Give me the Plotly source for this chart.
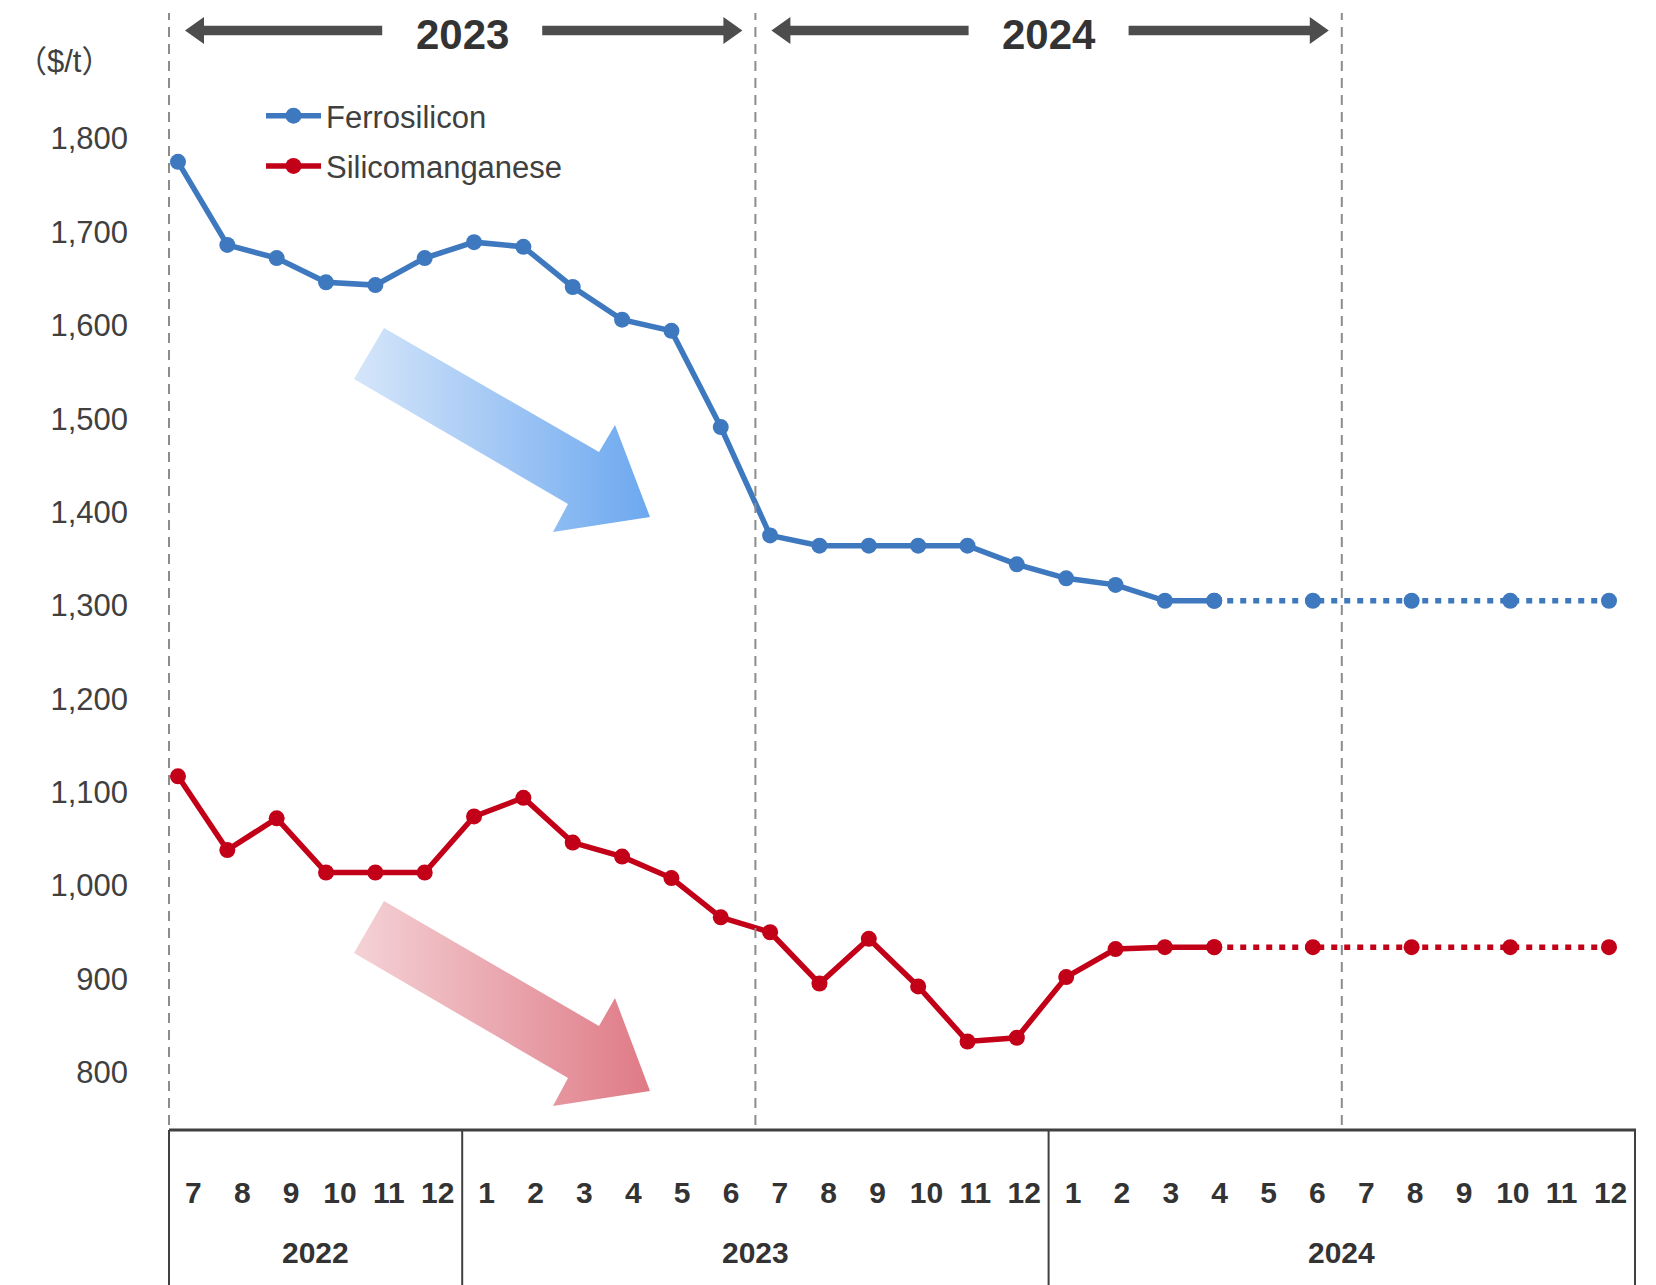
import plotly.graph_objects as go

W, H = 1656, 1285

# ---- data -------------------------------------------------------------
month_labels = ["7", "8", "9", "10", "11", "12",
                "1", "2", "3", "4", "5", "6", "7", "8", "9", "10", "11", "12",
                "1", "2", "3", "4", "5", "6", "7", "8", "9", "10", "11", "12"]
year_labels = ["2022", "2023", "2024"]
year_month_counts = [6, 12, 12]
period_labels = ["2023", "2024"]
period_month_counts = [12, 12]

ferro_actual = [1775, 1686, 1672, 1646, 1643, 1672, 1689, 1684, 1641, 1606, 1594,
                1491, 1375, 1364, 1364, 1364, 1364, 1344, 1329, 1322, 1305, 1305]
simn_actual = [1117, 1038, 1072, 1014, 1014, 1014, 1074, 1094, 1046, 1031, 1008,
               966, 950, 895, 943, 892, 833, 837, 902, 932, 934, 934]
forecast_pos = [21, 23, 25, 27, 29]
ferro_forecast = [1305, 1305, 1305, 1305, 1305]
simn_forecast = [934, 934, 934, 934, 934]

y_ticks = [800, 900, 1000, 1100, 1200, 1300, 1400, 1500, 1600, 1700, 1800]

# ---- styling ----------------------------------------------------------
BLUE = "#3E78BF"
RED = "#C20018"
TXT = "#404040"
DARK = "#333333"
FONT = "Liberation Sans, Arial, sans-serif"
LINE_W = 5.5
MARKER = 16

# plot area in page pixels
PL, PR, PT, PB = 169, 1635, 13, 1125
TABLE_TOP = 1130


def px(x):
    return x / W


def py(y):
    return 1 - y / H


n_months = len(month_labels)
cat_w = (PR - PL) / n_months


def cat_px(v):
    """page x of a position on the month-category axis"""
    return PL + (v + 0.5) * cat_w


fig = go.Figure()

fig.add_trace(go.Scatter(
    x=list(range(len(ferro_actual))), y=ferro_actual, name="Ferrosilicon",
    mode="lines+markers", line=dict(color=BLUE, width=LINE_W),
    marker=dict(color=BLUE, size=MARKER), legendgroup="fe", hoverinfo="skip"))
fig.add_trace(go.Scatter(
    x=forecast_pos, y=ferro_forecast, name="Ferrosilicon", mode="lines+markers",
    line=dict(color=BLUE, width=LINE_W, dash="6px,7px"),
    marker=dict(color=BLUE, size=MARKER),
    legendgroup="fe", showlegend=False, hoverinfo="skip"))
fig.add_trace(go.Scatter(
    x=list(range(len(simn_actual))), y=simn_actual, name="Silicomanganese",
    mode="lines+markers", line=dict(color=RED, width=LINE_W),
    marker=dict(color=RED, size=MARKER), legendgroup="si", hoverinfo="skip"))
fig.add_trace(go.Scatter(
    x=forecast_pos, y=simn_forecast, name="Silicomanganese", mode="lines+markers",
    line=dict(color=RED, width=LINE_W, dash="6px,7px"),
    marker=dict(color=RED, size=MARKER),
    legendgroup="si", showlegend=False, hoverinfo="skip"))

# month category axis (carries the month tick labels)
fig.add_trace(go.Scatter(x=[0], y=[None], xaxis="x2", yaxis="y",
                         showlegend=False, hoverinfo="skip"))

# gradient trend arrows, drawn on a page-pixel helper axis
blue_arrow = [(384, 328), (599, 452), (615, 425), (650, 517), (553, 532), (568, 504), (354, 379), (384, 328)]
red_arrow = [(384, 901), (599, 1026), (615, 998), (650, 1091), (553, 1106), (568, 1078), (354, 953), (384, 901)]
for pts, cs in [(blue_arrow, [[0, "#D6E6FA"], [1, "#6CA8EF"]]),
                (red_arrow, [[0, "#F4D2D6"], [1, "#DF7A86"]])]:
    fig.add_trace(go.Scatter(
        x=[p[0] for p in pts], y=[p[1] for p in pts], xaxis="x3", yaxis="y3",
        mode="lines", fill="toself", line=dict(width=0, color="rgba(0,0,0,0)"),
        fillgradient=dict(type="horizontal", colorscale=cs),
        showlegend=False, hoverinfo="skip"))

shapes = []

# dashed period separators
for v in [-0.5, 11.5, 23.5]:
    shapes.append(dict(type="line", xref="paper", yref="paper",
                       x0=px(cat_px(v)), x1=px(cat_px(v)), y0=py(PB), y1=py(PT),
                       line=dict(color="#8C8C8C", width=2, dash="10px,7px")))

# table under the chart
shapes.append(dict(type="line", xref="paper", yref="paper",
                   x0=px(PL), x1=px(PR + 1), y0=py(TABLE_TOP), y1=py(TABLE_TOP),
                   line=dict(color=TXT, width=3)))
edges = [-0.5]
for c in year_month_counts:
    edges.append(edges[-1] + c)
for v in edges:
    shapes.append(dict(type="line", xref="paper", yref="paper",
                       x0=px(cat_px(v)), x1=px(cat_px(v)), y0=py(TABLE_TOP), y1=0,
                       line=dict(color=TXT, width=2)))

annotations = []
start = -0.5
for lab, c in zip(year_labels, year_month_counts):
    annotations.append(dict(text=lab, xref="paper", yref="paper",
                            x=px(cat_px(start + c / 2)), y=py(1252),
                            showarrow=False, xanchor="center", yanchor="middle",
                            font=dict(family=FONT, size=30, color=DARK, weight="bold")))
    start += c

# period arrows across the top
ARROW_Y = 30.5
SHAFT_HALF = 4.8
HEAD_LEN = 19
HEAD_HALF = 13.5
TEXT_GAP = 80


def h_arrow(x_from, x_to):
    d = 1 if x_to > x_from else -1
    xb = x_to - d * HEAD_LEN
    pts = [(x_from, ARROW_Y - SHAFT_HALF), (xb, ARROW_Y - SHAFT_HALF),
           (xb, ARROW_Y - HEAD_HALF), (x_to, ARROW_Y), (xb, ARROW_Y + HEAD_HALF),
           (xb, ARROW_Y + SHAFT_HALF), (x_from, ARROW_Y + SHAFT_HALF)]
    path = "M" + " L".join(f"{px(a):.5f},{py(b):.5f}" for a, b in pts) + " Z"
    return dict(type="path", xref="paper", yref="paper", path=path,
                fillcolor="#4D4D4D", line=dict(width=0))


start = -0.5
for lab, c in zip(period_labels, period_month_counts):
    left = cat_px(start) + 16
    right = cat_px(start + c) - 13
    mid = cat_px(start + c / 2)
    shapes.append(h_arrow(mid - TEXT_GAP, left))
    shapes.append(h_arrow(mid + TEXT_GAP, right))
    annotations.append(dict(text=lab, xref="paper", yref="paper", x=px(mid), y=py(34),
                            showarrow=False, xanchor="center", yanchor="middle",
                            font=dict(family=FONT, size=42, color=DARK, weight="bold")))
    start += c

annotations.append(dict(text="（$/t）", xref="paper", yref="paper", x=px(64), y=py(61),
                        showarrow=False, xanchor="center", yanchor="middle",
                        font=dict(family="Liberation Sans, Noto Sans CJK JP", size=31, color=TXT)))

fig.update_layout(
    width=W, height=H,
    margin=dict(l=0, r=0, t=0, b=0),
    paper_bgcolor="white", plot_bgcolor="rgba(0,0,0,0)",
    font=dict(family=FONT, color=TXT),
    showlegend=True,
    legend=dict(x=px(261), y=py(89), xanchor="left", yanchor="top",
                font=dict(family=FONT, size=31, color=TXT), itemwidth=55,
                bgcolor="rgba(0,0,0,0)", tracegroupgap=7, traceorder="grouped"),
    xaxis=dict(domain=[px(PL), px(PR)], range=[-0.182, 29.527], visible=False,
               anchor="y"),
    xaxis2=dict(domain=[px(PL), px(PR)], range=[-0.5, 29.5], overlaying="x",
                anchor="y", side="bottom", showgrid=False, zeroline=False,
                showline=False, ticks="",
                tickmode="array", tickvals=list(range(n_months)), ticktext=month_labels,
                tickfont=dict(family=FONT, size=30, color=DARK, weight="bold"),
                ticklabelstandoff=47),
    yaxis=dict(domain=[py(PB), py(PT)], range=[743.6, 1934.4], anchor="x",
               tickmode="array", tickvals=y_ticks, tickformat=",d",
               showgrid=False, zeroline=False, showline=False, ticks="",
               tickfont=dict(family=FONT, size=31, color=TXT),
               ticklabelstandoff=40),
    xaxis3=dict(domain=[0, 1], range=[0, W], visible=False, anchor="y3"),
    yaxis3=dict(domain=[0, 1], range=[H, 0], visible=False, anchor="x3"),
    shapes=shapes,
    annotations=annotations,
)

fig.write_html("out.html")
